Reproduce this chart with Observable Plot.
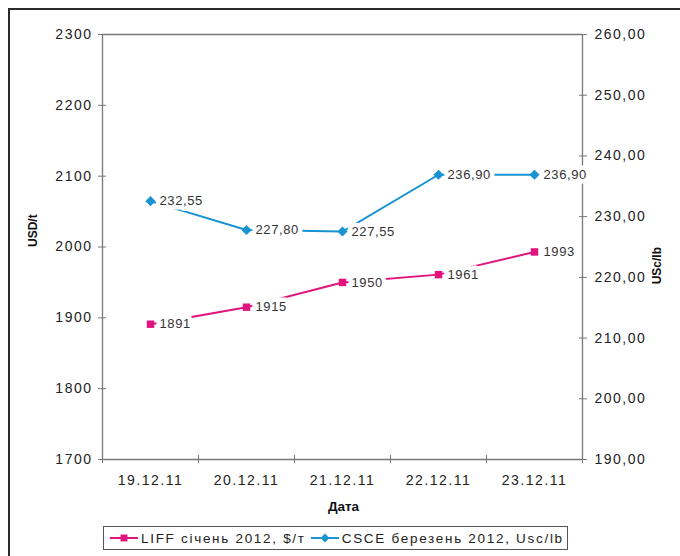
<!DOCTYPE html>
<html>
<head>
<meta charset="utf-8">
<script src="https://cdn.jsdelivr.net/npm/d3@7"></script>
<script src="https://cdn.jsdelivr.net/npm/@observablehq/plot@0.6"></script>
<style>
  html, body { margin: 0; padding: 0; background: #fff; width: 680px; height: 556px; overflow: hidden; }
  body { font-family: "Liberation Sans", Arial, sans-serif; position: relative; }
  #frame { position: absolute; left: 8px; top: 8px; width: 700px; height: 600px; border: 2px solid #2a2a2a; box-sizing: border-box; pointer-events: none; }
  #chart { position: absolute; left: 0; top: 0; }
  #chart g[aria-label="y-axis tick label"] text, #chart g[aria-label="x-axis tick label"] text { letter-spacing: 1.5px; }
  #legend { position: absolute; left: 103px; top: 526px; width: 465px; height: 24px; border: 1px solid #555; box-sizing: border-box;
            display: flex; align-items: center; justify-content: flex-start; padding-left: 5px; font-size: 13.5px; color: #222; white-space: nowrap; letter-spacing: 1.7px; }
  #legend svg { display: block; }
</style>
</head>
<body>
<div id="chart"></div>
<div id="frame"></div>
<div id="legend"></div>
<script>
const dates = ["19.12.11", "20.12.11", "21.12.11", "22.12.11", "23.12.11"];
const liff = [1891, 1915, 1950, 1961, 1993];
const csce = [232.55, 227.80, 227.55, 236.90, 236.90];
const leftTicks = [1700, 1800, 1900, 2000, 2100, 2200, 2300];
const rightTicks = [190, 200, 210, 220, 230, 240, 250, 260];
const liffName = "LIFF січень 2012, $/т";
const csceName = "CSCE березень 2012, Usc/lb";
const pink = "#e0147c";
const blue = "#1a93d2";
const axisColor = "#777";

// map right axis (USc/lb, 190..260) onto left axis (USD/t, 1700..2300)
const toLeft = v => 1700 + (v - 190) * 600 / 70;
const toRight = d => 190 + (d - 1700) * 70 / 600;
const comma = v => v.toFixed(2).replace(".", ",");

const liffData = dates.map((d, i) => ({i, y: liff[i], label: String(liff[i])}));
const csceData = dates.map((d, i) => ({i, y: toLeft(csce[i]), label: comma(csce[i])}));
const edges = d3.range(dates.length + 1).map(k => k - 0.5);

const font = "Liberation Sans, Arial, sans-serif";

const chart = Plot.plot({
  width: 680,
  height: 518,
  marginLeft: 102,
  marginRight: 98,
  marginTop: 34,
  marginBottom: 59,
  style: {fontFamily: font, fontSize: "14px", color: "#222", background: "transparent"},
  x: {type: "linear", domain: [-0.5, dates.length - 0.5]},
  y: {domain: [1700, 2300]},
  marks: [
    Plot.ruleY([2300, 1700], {stroke: axisColor, strokeWidth: 1.3}),
    Plot.ruleX([-0.5, dates.length - 0.5], {stroke: axisColor, strokeWidth: 1.3}),
    // left axis: ticks crossing the line, labels separately
    Plot.axisY({anchor: "left", ticks: leftTicks, tickSize: 8, dx: 4, tickFormat: () => "", stroke: axisColor, label: null}),
    Plot.axisY({anchor: "left", ticks: leftTicks, tickSize: 0, tickPadding: 10, tickFormat: d => String(d), fill: "#222", fontSize: 14, label: null}),
    // right axis
    Plot.axisY({anchor: "right", ticks: rightTicks.map(toLeft), tickSize: 8, dx: -4, tickFormat: () => "", stroke: axisColor, label: null}),
    Plot.axisY({anchor: "right", ticks: rightTicks.map(toLeft), tickSize: 0, tickPadding: 12, tickFormat: d => comma(toRight(d)), fill: "#222", fontSize: 14, label: null}),
    // bottom axis
    Plot.axisX({anchor: "bottom", ticks: edges, tickSize: 8, dy: -4, tickFormat: () => "", stroke: axisColor, label: null}),
    Plot.axisX({anchor: "bottom", ticks: d3.range(dates.length), tickSize: 0, tickPadding: 16, tickFormat: i => dates[i], fill: "#222", fontSize: 14, label: null}),
    // axis titles
    Plot.text(["Дата"], {frameAnchor: "bottom", dy: 51, fontWeight: "bold", fontSize: 13.5, fill: "#111", dx: 1}),
    Plot.text(["USD/t"], {frameAnchor: "left", dx: -69, rotate: -90, fontWeight: "bold", fontSize: 12, fill: "#111"}),
    Plot.text(["USc/lb"], {frameAnchor: "right", dx: 75, rotate: -90, fontWeight: "bold", fontSize: 12, fill: "#111"}),
    // lines
    Plot.line(liffData, {x: "i", y: "y", stroke: pink, strokeWidth: 2}),
    Plot.line(csceData, {x: "i", y: "y", stroke: blue, strokeWidth: 2}),
    // value labels with white halo (background)
    Plot.text(liffData, {x: "i", y: "y", text: "label", dx: 9, textAnchor: "start", fill: "#333", fontSize: 13, stroke: "white", strokeWidth: 9, strokeLinejoin: "round"}),
    Plot.text(csceData, {x: "i", y: "y", text: "label", dx: 9, textAnchor: "start", fill: "#333", fontSize: 13, stroke: "white", strokeWidth: 9, strokeLinejoin: "round"}),
    // markers
    Plot.dot(liffData, {x: "i", y: "y", symbol: "square", r: 4.2, fill: pink, stroke: "none"}),
    Plot.dot(csceData, {x: "i", y: "y", symbol: "diamond2", r: 4.6, fill: blue, stroke: "none"})
  ]
});
// slight spacing on value labels
chart.querySelectorAll('g[aria-label="text"] text').forEach(t => { if (/^\d/.test(t.textContent)) t.style.letterSpacing = "0.6px"; });
document.getElementById("chart").appendChild(chart);

// legend
function swatch(color, symbolType, size) {
  const w = 30, h = 14;
  const sym = d3.symbol(symbolType, size)();
  return `<svg width="${w}" height="${h}"><line x1="1" x2="${w-1}" y1="${h/2}" y2="${h/2}" stroke="${color}" stroke-width="2"/>` +
         `<path d="${sym}" transform="translate(${w/2},${h/2})" fill="${color}"/></svg>`;
}
document.getElementById("legend").innerHTML =
  swatch(pink, d3.symbolSquare, 48) + `<span style="margin-left:2px">${liffName}</span>` +
  `<span style="margin-left:4px"></span>` +
  swatch(blue, d3.symbolDiamond2, 50) + `<span style="margin-left:2px">${csceName}</span>`;
</script>
</body>
</html>
